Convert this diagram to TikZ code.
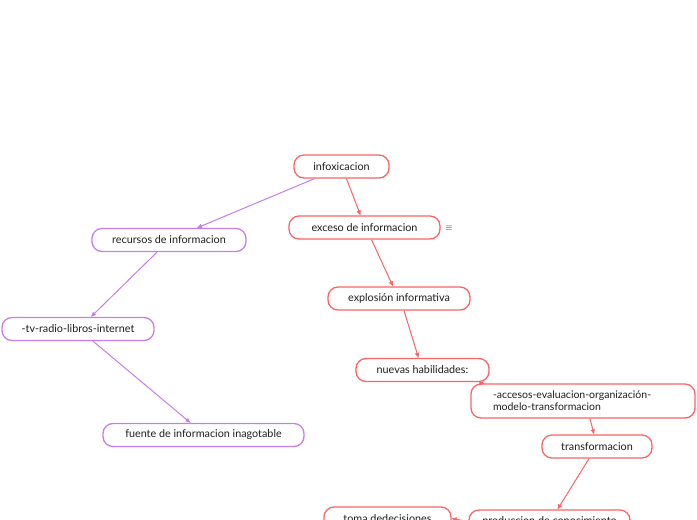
\documentclass[tikz,border=0pt]{standalone}
\usepackage{fontspec}
\setmainfont{Lato}
\usepackage{xcolor}
\usetikzlibrary{arrows.meta}
\definecolor{redline}{RGB}{250,100,100}
\definecolor{purpline}{RGB}{200,125,235}
\definecolor{txt}{RGB}{30,30,30}

\begin{document}
\begin{tikzpicture}[x=1pt, y=-1pt,
  topic/.style={draw=redline, fill=white, rounded corners=10pt, line width=1.3pt,
    minimum height=23pt, inner sep=3pt, font=\fontsize{10.8}{12.5}\selectfont, text=txt},
  side/.style={topic, draw=purpline},
  rlink/.style={draw=redline, line width=1pt, -{Triangle[length=5pt, width=4pt]}},
  plink/.style={rlink, draw=purpline, -{Triangle[length=5pt, width=4pt, fill=purpline]}}]
\clip (0,0) rectangle (697,520);
\fill[white] (0,0) rectangle (697,520);

% red branch
\node[topic, minimum width=95pt] (infox) at (341.5,166.5) {infoxicacion};
\node[topic, minimum width=151pt] (exceso) at (364.5,227.5) {exceso de informacion};
\node[font=\small, text=txt] (menu) at (449,228) {$\equiv$};
\node[topic, minimum width=142pt] (explo) at (399,298.5) {explosión informativa};
\node[topic, minimum width=133pt] (habil) at (422.5,370) {nuevas habilidades:};
\node[topic, minimum width=222pt, minimum height=34pt, text width=180pt,
  inner xsep=22pt, align=left, font=\fontsize{10.5}{12}\selectfont] (acces) at (583,401)
  {-accesos-evaluacion-organización-\\modelo-transformacion};
\node[topic, minimum width=110pt] (transf) at (597,446.5) {transformacion};
\node[topic, minimum width=161pt] (nuevo) at (549.5,521.5) {produccion de conocimiento};
\node[topic, minimum width=127pt] (toma) at (387.5,518.5) {toma dedecisiones};

% purple branch
\node[side, minimum width=154pt] (recur) at (169,240) {recursos de informacion};
\node[side, minimum width=152pt] (medios) at (78,329) {-tv-radio-libros-internet};
\node[side, minimum width=201pt] (fuente) at (203.5,435) {fuente de informacion inagotable};

\draw[rlink] (infox.south) ++(5,0) -- ([xshift=-4pt]exceso.north);
\draw[rlink] ([xshift=7pt]exceso.south) -- ([xshift=-6pt]explo.north);
\draw[rlink] ([xshift=5pt]explo.south) -- ([xshift=-4pt]habil.north);
\draw[rlink] ([xshift=-8pt]habil.south east) to[out=0, in=180] ([xshift=14pt]acces.north west);
\draw[rlink] ([xshift=7pt]acces.south) -- ([xshift=-3pt]transf.north);
\draw[rlink] ([xshift=-8pt]transf.south) -- ([xshift=8pt]nuevo.north);
\draw[rlink] (nuevo.west) -- (toma.east);

\draw[plink] ([xshift=-27pt]infox.south) -- ([xshift=28pt]recur.north);
\draw[plink] ([xshift=-12pt]recur.south) -- ([xshift=13pt]medios.north);
\draw[plink] ([xshift=15pt]medios.south) -- ([xshift=-13pt]fuente.north);
\end{tikzpicture}
\end{document}
